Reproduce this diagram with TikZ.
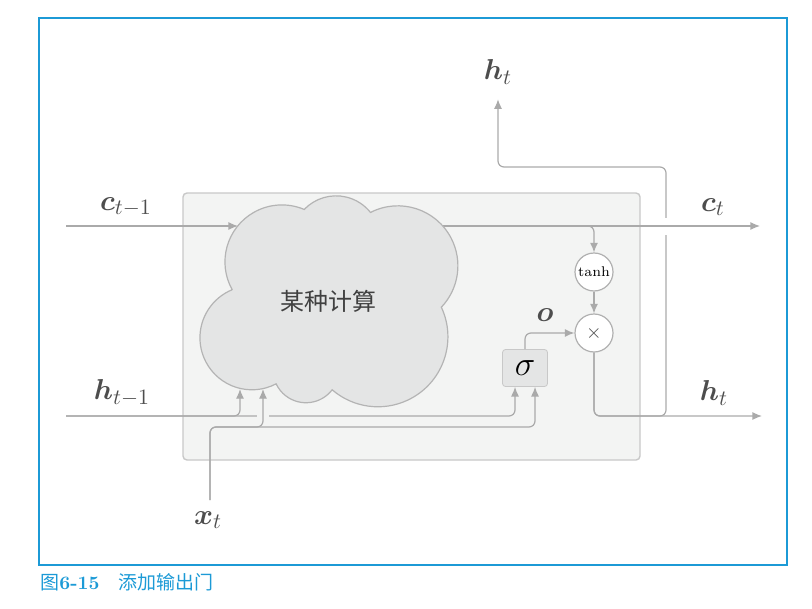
\documentclass[tikz,border=0pt]{standalone}
\usepackage{amsmath,amssymb}
\usepackage{fontspec}
\usepackage{tikz}
\usetikzlibrary{arrows.meta}
\newfontfamily\cjk{Noto Sans CJK SC}
\definecolor{framec}{HTML}{1C9AD6}
\definecolor{lineg}{HTML}{AAAAAA}
\definecolor{panelc}{HTML}{F3F4F3}
\definecolor{panelline}{HTML}{C8C8C8}
\definecolor{cloudc}{HTML}{E4E5E5}
\definecolor{cloudline}{HTML}{B4B4B4}
\definecolor{labelc}{HTML}{4D4D4D}
\definecolor{opline}{HTML}{B0B0B0}

\begin{document}
\begin{tikzpicture}[x=0.5pt,y=-0.5pt,>={Latex[length=4.8pt,width=4pt]},
  conn/.style={draw=lineg,line width=0.6pt,rounded corners=3pt},
  lbl/.style={text=labelc,font=\fontsize{15.5}{18}\selectfont},
  op/.style={draw=opline,fill=white,circle,minimum size=19pt,inner sep=0pt,line width=0.6pt}]
\useasboundingbox (0,0) rectangle (812,609);
\draw[framec,line width=0.6pt] (39,18) rectangle (787,565);
\node[anchor=west,text=framec,font=\fontsize{9.5}{11}\selectfont,inner sep=0pt] (cap) at (40,582) {{\cjk 图}\textbf{6-15}\quad{\cjk 添加输出门}};
\draw[panelline,fill=panelc,rounded corners=2pt,line width=0.7pt] (183,193) rectangle (640,460);

\coordinate (cs) at (66,226);
\coordinate (cc) at (330,226);
\coordinate (ce) at (760,226);
\coordinate (cb) at (575,226);
\coordinate (hs) at (66,416);
\coordinate (he) at (762,416);
\coordinate (hup) at (666,167);
\coordinate (xs) at (210,500);
\coordinate (xrow) at (230,427);
\coordinate (k1) at (238,226);
\coordinate (k2) at (240,389);
\coordinate (k3) at (263,389);

\node[op] (tn) at (594,272) {\scriptsize tanh};
\node[op,text=labelc] (xo) at (594,333) {$\times$};
\node[draw=panelline,fill=cloudc,rounded corners=1.5pt,minimum width=22.5pt,minimum height=18.5pt,inner sep=0pt] (sg) at (525,368) {\LARGE$\sigma$};

\node[lbl] (cp) at (126,207) {$\boldsymbol{c}_{t-1}$};
\node[lbl] (ct) at (713,207) {$\boldsymbol{c}_t$};
\node[lbl] (hp) at (122,393) {$\boldsymbol{h}_{t-1}$};
\node[lbl] (hr) at (714,393) {$\boldsymbol{h}_t$};
\node[lbl] (ht) at (498,72) {$\boldsymbol{h}_t$};
\node[lbl] (xt) at (208,520) {$\boldsymbol{x}_t$};
\node[lbl] (og) at (545,315) {$\boldsymbol{o}$};

% output side
\draw[conn,->] (xo.south) |- (he);
\draw[conn,->,shorten >=4pt] (xo.south) |- (hup |- he) -- (hup) -| (ht.south);
\draw[white,line width=1.5pt] (666,218) -- (666,235);
\draw[conn,->] (cc) -- (ce);
\draw[conn,->] (cb) -| (tn.north);
\draw[conn,->] (tn) -- (xo);
\draw[conn,->] (sg.north) |- (xo.west);

% the cloud, six puffs
\draw[cloudline,fill=cloudc,line width=0.6pt] (232.3,289.9)
  arc[start angle=209.4,end angle=67,radius=28.5pt]
  arc[start angle=136.3,end angle=38.5,radius=22pt]
  arc[start angle=117.2,end angle=-43.6,radius=30pt]
  arc[start angle=25,end angle=-130.8,radius=35pt]
  arc[start angle=-37.4,end angle=-154.7,radius=16.5pt]
  arc[start angle=-62.3,end angle=-247.7,radius=26pt] -- cycle;
\node[font=\cjk\large,text=black!75] (calc) at (328,301) {某种计算};

% inputs
\draw[conn,->] (cs) -- (k1);
\draw[conn,->] (hs) -| (k2);
\draw[conn,->] (hs) -| ([xshift=-5pt]sg.south);
\draw[panelc,line width=6pt] (263,411) -- (263,421);
\draw[conn,->] (xs) |- (xrow) -| (k3);
\draw[conn,->] (xs) |- (xrow) -| ([xshift=5pt]sg.south);
\end{tikzpicture}
\end{document}
